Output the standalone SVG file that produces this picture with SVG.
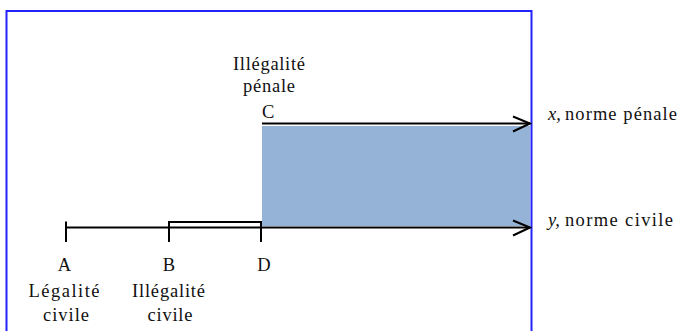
<svg xmlns="http://www.w3.org/2000/svg" width="680" height="331" viewBox="0 0 680 331">
<style>
.t{font-family:"Liberation Serif","Times New Roman",serif;font-size:18.5px;fill:#111;}
.m{text-anchor:middle;}
.ln{stroke:#000;stroke-width:2;fill:none;}
.frame{stroke:#2222ff;stroke-width:2;fill:none;}
</style>
<defs>
<marker id="arr" markerUnits="userSpaceOnUse" viewBox="-19 -10 21 20" markerWidth="21" markerHeight="20" refX="0" refY="0" orient="auto">
<path d="M-17,-7 L0,0 L-17,8" stroke="#000" stroke-width="2" fill="none"/>
</marker>
</defs>
<g id="frame"><path class="frame" d="M6.5,332 V11 H531.5 V332"/></g>
<g id="zone-penale"><rect x="262" y="126" width="268" height="100" fill="#95b3d7"/></g>
<g id="connectors">
<line class="ln" x1="262" y1="123.5" x2="530" y2="123.5" marker-end="url(#arr)"/>
<line class="ln" x1="66" y1="227.5" x2="530" y2="227.5" marker-end="url(#arr)"/>
<line class="ln" x1="66" y1="221.5" x2="66" y2="242"/>
<path class="ln" d="M169,242 V222 H261 V242"/>
</g>
<g id="node-C">
<text class="t m" x="269" y="70" textLength="72" lengthAdjust="spacing">Illégalité</text>
<text class="t m" x="269" y="92" textLength="52" lengthAdjust="spacing">pénale</text>
<text class="t" x="262" y="118">C</text>
</g>
<g id="node-A">
<text class="t m" x="64.5" y="271">A</text>
<text class="t m" x="64" y="297" textLength="71" lengthAdjust="spacing">Légalité</text>
<text class="t m" x="66" y="321" textLength="46" lengthAdjust="spacing">civile</text>
</g>
<g id="node-B">
<text class="t m" x="169" y="271">B</text>
<text class="t m" x="168.5" y="297" textLength="73" lengthAdjust="spacing">Illégalité</text>
<text class="t m" x="170" y="321" textLength="45" lengthAdjust="spacing">civile</text>
</g>
<g id="node-D">
<text class="t m" x="264" y="271">D</text>
</g>
<g id="label-x">
<text class="t" x="548" y="120" font-style="italic">x,</text>
<text class="t" x="565" y="120" textLength="112" lengthAdjust="spacing">norme pénale</text>
</g>
<g id="label-y">
<text class="t" x="548" y="226" font-style="italic">y,</text>
<text class="t" x="565" y="226" textLength="108" lengthAdjust="spacing">norme civile</text>
</g>
</svg>
